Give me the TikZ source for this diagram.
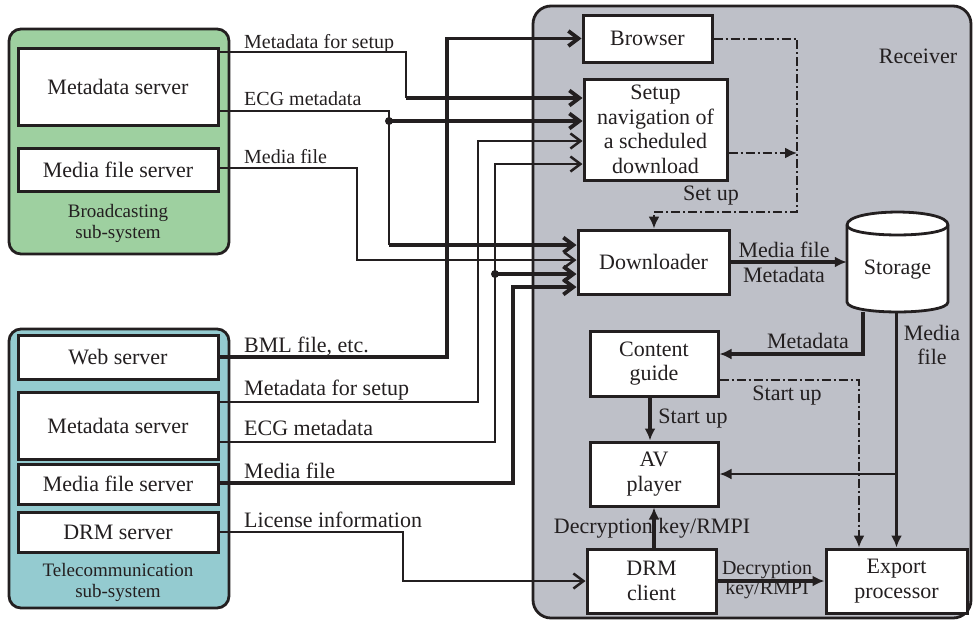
\documentclass[tikz,border=0pt]{standalone}
\usepackage{fontspec}
\setmainfont{Liberation Serif}
\usetikzlibrary{arrows.meta}
\definecolor{ink}{RGB}{35,31,32}
\definecolor{bcgreen}{RGB}{158,208,160}
\definecolor{tccyan}{RGB}{148,203,208}
\definecolor{rxgray}{RGB}{190,192,200}
\begin{document}
\begin{tikzpicture}[x=1pt,y=-1pt,
 every node/.style={text=ink},
 grp/.style={draw=ink, line width=2.8pt, rounded corners=12pt, inner sep=0pt},
 box/.style={draw=ink, fill=white, line width=3pt, inner sep=0pt, align=center, font=\fontsize{22}{24.5}\selectfont},
 lbl/.style={inner sep=0pt, font=\fontsize{22}{24.5}\selectfont, align=center},
 blbl/.style={inner sep=0pt, font=\fontsize{20}{22}\selectfont, anchor=base west},
 tlbl/.style={inner sep=0pt, font=\fontsize{22}{24}\selectfont, anchor=base west},
 slbl/.style={inner sep=0pt, font=\fontsize{19}{21}\selectfont, align=center},
 wthin/.style={draw=ink, line width=2.5pt},
 wthick/.style={draw=ink, line width=3.8pt},
 ctrl/.style={draw=ink, line width=2pt, dash pattern=on 9pt off 3pt on 2pt off 3pt},
 openbarb/.style={-{Straight Barb[length=10pt,width=15pt]}},
 solidtip/.style={-{Latex[length=12pt,width=11pt]}},
]
\useasboundingbox (0,0) rectangle (974,622);

% containers
\node[grp, fill=rxgray, rounded corners=18pt, minimum width=438, minimum height=612] (rx) at (752,312) {};
\node[grp, fill=bcgreen, minimum width=220, minimum height=225] (bc) at (119,141.5) {};
\node[grp, fill=tccyan, minimum width=220, minimum height=279] (tc) at (119,468.5) {};

% server boxes
\node[box, minimum width=200, minimum height=77] (bms) at (118,86.5) {Metadata server};
\node[box, minimum width=200, minimum height=43] (bmf) at (118,169.5) {Media file server};
\node[box, minimum width=200, minimum height=44] (ws) at (118,357) {Web server};
\node[box, minimum width=200, minimum height=67] (tms) at (118,425.5) {Metadata server};
\node[box, minimum width=200, minimum height=40] (tmf) at (118,484) {Media file server};
\node[box, minimum width=200, minimum height=40] (drms) at (118,532) {DRM server};

% receiver boxes
\node[box, minimum width=129, minimum height=47] (browser) at (647.5,38.5) {Browser};
\node[box, minimum width=143, minimum height=101] (setup) at (655.5,129.5) {Setup\\navigation of\\a scheduled\\download};
\node[box, minimum width=151, minimum height=64] (down) at (653.5,262) {Downloader};
\node[box, minimum width=128, minimum height=65] (cg) at (654,363.5) {Content\\guide};
\node[box, minimum width=128, minimum height=64] (av) at (654,474) {AV\\player};
\node[box, minimum width=129, minimum height=64] (drmc) at (651.5,581) {DRM\\client};
\node[box, minimum width=141, minimum height=64] (exp) at (896.5,581) {Export\\processor};

% storage cylinder
\path[draw=ink, fill=white, line width=2.8pt] (847,225) -- (847,302) .. controls (847,315.3) and (948,315.3) .. (948,302) -- (948,225) .. controls (948,207.7) and (847,207.7) .. (847,225) -- cycle;
\draw[ink, line width=2.8pt] (847,225) .. controls (847,238.3) and (948,238.3) .. (948,225);
\node[lbl, minimum width=101, minimum height=84] (storage) at (897.5,270) {Storage};

% broadcasting wires
\draw[wthin] (bms.east |- 0,52) -- (406,52) -- (406,98);
\draw[wthick, openbarb] (406,98) -- (setup.west |- 0,98);
\draw[wthin] (bms.east |- 0,111) -- (389,111) -- (389,121);
\draw[wthick, openbarb] (389,121) -- (setup.west |- 0,121);
\draw[wthin] (389,121) -- (389,245);
\draw[wthick, openbarb] (389,245) -- (down.west |- 0,245);
\fill[ink] (389,121) circle[radius=4];
\draw[wthin, openbarb] (bmf.east |- 0,168) -- (357,168) -- (357,260) -- (down.west |- 0,260);

% telecom wires
\draw[wthick, openbarb] (ws.east) -| (browser.west -| 447,0) -- (browser.west);
\draw[wthin, openbarb] (tms.east |- 0,402) -- (478,402) -- (478,141) -- (setup.west |- 0,141);
\draw[wthin, openbarb] (tms.east |- 0,442) -- (495,442) -- (495,164) -- (setup.west |- 0,164);
\draw[wthick, openbarb] (495,274) -- (down.west |- 0,274);
\fill[ink] (495,274) circle[radius=4];
\draw[wthick, openbarb] (tmf.east |- 0,483) -- (513,483) -- (513,287) -- (down.west |- 0,287);
\draw[wthin, openbarb] (drms.east) -- (403,532) -- (403,581) -- (drmc.west);

% receiver internal connectors
\coordinate (ctlcorner) at (797,212);
\draw[ctrl, solidtip] (browser.east) -| (ctlcorner) -- (ctlcorner -| 654,0) -- (down.north -| 654,0);
\coordinate (ctljoin) at (797,153);
\draw[ctrl, solidtip] (setup.east |- ctljoin) -- (ctljoin);
\draw[wthick, solidtip] (down.east) -- (down.east -| storage.west);
\draw[wthick, solidtip] (storage.south -| 863,0) -- (863,354) -- (cg.east |- 0,354);
\draw[wthick, solidtip] (storage.south -| exp.north) -- (exp.north);
\draw[wthin, solidtip] (av.east -| exp.north) -- (av.east);
\draw[ctrl, solidtip] (cg.east |- 0,380) -- (859,380) -- (exp.north -| 859,0);
\draw[wthick, solidtip] (cg.south -| 650,0) -- (av.north -| 650,0);
\draw[wthick, solidtip] (drmc.north -| 654,0) -- (av.south -| 654,0);
\draw[wthick, solidtip] (drmc.east) -- (exp.west);

% labels
\node[blbl] (l1) at (244,48) {Metadata for setup};
\node[blbl] (l2) at (244,105) {ECG metadata};
\node[blbl] (l3) at (244,163) {Media file};
\node[tlbl] (l4) at (244,352) {BML file, etc.};
\node[tlbl] (l5) at (244,395) {Metadata for setup};
\node[tlbl] (l6) at (244,435) {ECG metadata};
\node[tlbl] (l7) at (244,478) {Media file};
\node[tlbl] (l8) at (244,527) {License information};

\node[lbl, anchor=base] (lsetup) at (711,200) {Set up};
\node[lbl] (lmm) at (784,262.5) {Media file\\Metadata};
\node[lbl, anchor=base] (lmeta) at (808,348) {Metadata};
\node[lbl] (lmf) at (932,345) {Media\\file};
\node[lbl, anchor=base] (ls1) at (787,400) {Start up};
\node[lbl, anchor=base] (ls2) at (693,423) {Start up};
\node[lbl, anchor=base] (ldk) at (652,533) {Decryption key/RMPI};
\node[inner sep=0pt, font=\fontsize{20}{20}\selectfont, align=center] (ldk2) at (767,580.5) {Decryption\\key/RMPI};
\node[lbl, anchor=base] (lrx) at (918,63) {Receiver};
\node[slbl] (lbc) at (118,223) {Broadcasting\\sub-system};
\node[slbl] (ltc) at (118,582) {Telecommunication\\sub-system};
\end{tikzpicture}
\end{document}
